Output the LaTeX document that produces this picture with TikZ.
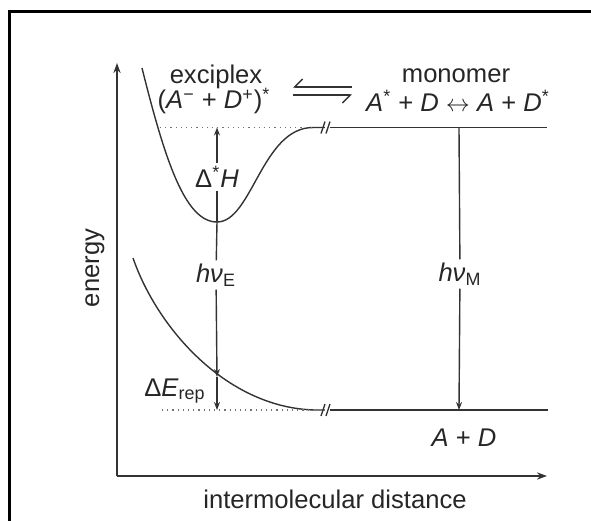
\documentclass[tikz,border=0pt]{standalone}
\usepackage{fontspec}
\setmainfont{Liberation Sans}
\usetikzlibrary{arrows.meta}

\tikzset{
  line/.style={line width=0.7pt,black!80},
  guide/.style={dotted,line width=0.6pt,black!55},
  axis/.style={line width=0.8pt,black!80,-{Stealth[length=5pt,width=3.6pt]}},
  trans/.style={line,-{Stealth[length=4pt,width=3pt]}},
  lbl/.style={font=\fontsize{12.8}{15}\selectfont,text=black!85,inner sep=0.5pt},
  cut/.style={fill=white,inner sep=1.5pt},
}
% break mark on a level line
\newcommand{\levelbreak}[1]{\draw[line] (#1) ++(-4,6) -- ++(4,-12) ++(1,12) -- ++(4,-12);}

\begin{document}
\begin{tikzpicture}[x=0.5pt,y=-0.5pt]
  \useasboundingbox (0,0) rectangle (591,521);
  % frame of the page
  \draw[line width=1.5pt] (9.5,521) -- (9.5,11.5) -- (591,11.5);

  % axes
  \coordinate (O) at (117,476);
  \coordinate (ytip) at (117,63);
  \coordinate (xtip) at (547,476);
  \draw[axis] (O) -- (ytip);
  \draw[axis] (O) -- (xtip);
  \node[lbl,rotate=90] (energy) at (95,268) {energy};
  \node[lbl] (dist) at (335,499) {intermolecular distance};

  % excited state: exciplex well and monomer level
  \coordinate (exTop) at (142,68);
  \coordinate (exMin) at (217,222);
  \coordinate (exPl) at (313,127.5);
  \draw[line] (exTop) .. controls (165,160) and (185,222) .. (exMin)
    .. controls (252,222) and (262,127.5) .. (exPl) -- (325,127.5);
  \draw[line] (330,127.5) -- (547,127.5);
  \levelbreak{325,127.5}
  \draw[guide] (160,127.5) -- (exPl);

  % ground state: repulsive curve and A+D level
  \coordinate (gsTop) at (133,258);
  \coordinate (gsCross) at (217,377);
  \coordinate (gsPl) at (315,410);
  \draw[line] (gsTop) .. controls (158,330) and (228,408) .. (gsPl) -- (325,410);
  \draw[line] (330,410) -- (548,410);
  \levelbreak{325,410}
  \coordinate (gsBot) at (217,410);
  \draw[guide] (162,410) -- (gsPl);

  % labels
  \node[lbl] (exc) at (216,77) {exciplex};
  \node[lbl] (excF) at (214,101) {(\textit{A}\textsuperscript{−} + \textit{D}\textsuperscript{+})\textsuperscript{*}};
  \node[lbl] (mono) at (456,76) {monomer};
  \node[lbl] (monoF) at (458,101) {\textit{A}\textsuperscript{*} + \textit{D} $\leftrightarrow$ \textit{A} + \textit{D}\textsuperscript{*}};
  \node[lbl] (AD) at (464,438) {\textit{A} + \textit{D}};

  % equilibrium sign
  \coordinate (eqL) at (293,91);
  \coordinate (eqR) at (352,91);
  \draw[line,{Straight Barb[right,length=4pt]}-] ([yshift=2pt]eqL) -- ([yshift=2pt]eqR);
  \draw[line,-{Straight Barb[right,length=4pt]}] ([yshift=-2pt]eqL) -- ([yshift=-2pt]eqR);

  % exciplex: binding energy, emission, repulsion
  \node[lbl,cut] (dH) at (217,177) {Δ\textsuperscript{*}\textit{H}};
  \draw[trans] (dH) -- (217,127.5);
  \draw[line] (exMin) -- (dH);
  \node[lbl,cut] (hvE) at (216,275) {\textit{hν}\textsubscript{E}};
  \draw[line] (exMin) -- (hvE);
  \draw[trans] (hvE) -- (gsCross);
  \draw[trans] (gsCross) -- (gsBot);
  \node[lbl,anchor=east] (dErep) at (207,391) {Δ\textit{E}\textsubscript{rep}};

  % monomer emission
  \coordinate (mTop) at (459,127.5);
  \coordinate (mBot) at (459,410);
  \node[lbl,cut] (hvM) at (460,274) {\textit{hν}\textsubscript{M}};
  \draw[line] (mTop) -- (hvM);
  \draw[trans] (hvM) -- (mBot);
\end{tikzpicture}
\end{document}
